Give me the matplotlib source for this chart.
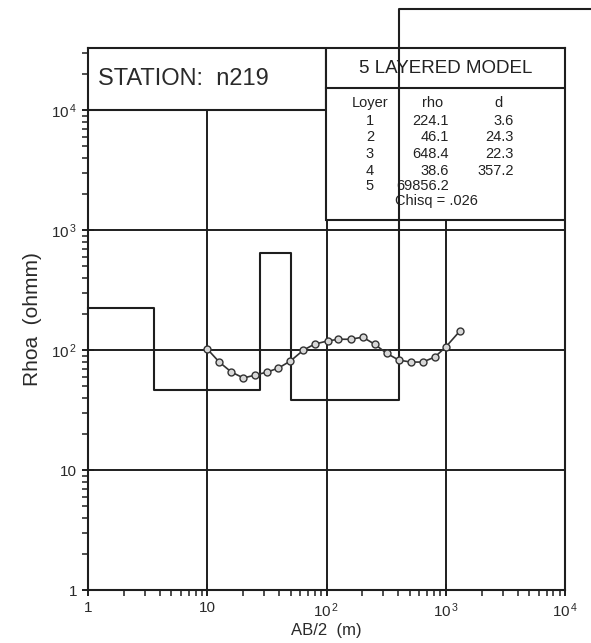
import numpy as np
import matplotlib.pyplot as plt
from matplotlib.patches import Rectangle
from matplotlib.ticker import FixedLocator, LogLocator, NullFormatter

plt.rcParams['font.family'] = ['Liberation Sans', 'DejaVu Sans']
plt.rcParams['mathtext.default'] = 'regular'

station = 'n219'
# measured sounding (AB/2 in m, apparent resistivity in ohm-m)
ab2 = [10, 12.6, 15.9, 20.1, 25.3, 31.9, 39.5, 49.8, 64.1, 79.3, 102, 126,
       159, 201, 253, 319, 403, 508, 641, 809, 1000, 1313]
rhoa = [102, 79.4, 65.6, 58.5, 61.9, 65.6, 70.8, 81, 100, 112, 119, 123,
        123, 128, 112, 94, 82.5, 79.4, 79.4, 87.4, 106, 144]
# layered model
layer = [1, 2, 3, 4, 5]
rho = [224.1, 46.1, 648.4, 38.6, 69856.2]
thick = [3.6, 24.3, 22.3, 357.2]
chisq = '.026'
xticks = [1, 10, 100, 1000, 10000]
xlabels = ['1', '10', '$10^{\\,2}$', '$10^{\\,3}$', '$10^{\\,4}$']
yticks = [1, 10, 100, 1000, 10000]
ylabels = ['1', '10', '$10^{\\,2}$', '$10^{\\,3}$', '$10^{\\,4}$']

ink = '#1e1e1e'
fig = plt.figure(figsize=(5.91, 6.43), dpi=100)
ax = fig.add_axes([0.149, 0.0824, 0.807, 0.8429])
ax.set_xscale('log')
ax.set_yscale('log')
ax.set_xlim(1, 1e4)
ax.set_ylim(1, 10**4.517)

for s in ax.spines.values():
    s.set_color(ink)
    s.set_linewidth(1.5)

# grid
for v in [10, 100, 1000]:
    ax.axvline(v, color=ink, lw=1.4, zorder=1)
for h in [10, 100, 1000, 10000]:
    ax.axhline(h, color=ink, lw=1.4, zorder=1)

# header boxes
ax.add_patch(Rectangle((0, 0.8856), 0.4993, 0.1144, transform=ax.transAxes,
                       facecolor='white', edgecolor=ink, lw=1.5, zorder=3))
ax.add_patch(Rectangle((0.4993, 0.683), 0.5007, 0.317, transform=ax.transAxes,
                       facecolor='white', edgecolor=ink, lw=1.5, zorder=3))
ax.plot([0.4993, 1], [0.926, 0.926], transform=ax.transAxes, color=ink, lw=1.5, zorder=4)

ax.text(0.02, 0.943, 'STATION:  ' + station, transform=ax.transAxes, fontsize=17,
        color='#2a2a2a', va='center', ha='left', zorder=5)
ax.text(0.75, 0.962, '5 LAYERED MODEL', transform=ax.transAxes, fontsize=13.5,
        color='#222222', va='center', ha='center', zorder=5)

tk = dict(transform=ax.transAxes, fontsize=10.5, color='#222222', va='center', zorder=5)
x_lay, x_rho, x_d = 0.591, 0.757, 0.893
ax.text(x_lay, 0.898, 'Loyer', ha='center', **tk)
ax.text(0.722, 0.898, 'rho', ha='center', **tk)
ax.text(0.861, 0.898, 'd', ha='center', **tk)
row_y = [0.866, 0.836, 0.805, 0.774, 0.745]
for i in range(len(layer)):
    ax.text(x_lay, row_y[i], str(layer[i]), ha='center', **tk)
    ax.text(x_rho, row_y[i], '%.1f' % rho[i], ha='right', **tk)
    if i < len(thick):
        ax.text(x_d, row_y[i], '%.1f' % thick[i], ha='right', **tk)
ax.text(0.73, 0.717, 'Chisq = ' + chisq, ha='center', **tk)

# model step curve
depth = np.cumsum(thick)
sx = [1]
sy = [rho[0]]
for i in range(len(thick)):
    sx += [depth[i], depth[i]]
    sy += [rho[i], rho[i + 1]]
sx.append(1.7e4)
sy.append(rho[-1])
ax.plot(sx, sy, color=ink, lw=1.5, clip_on=False, zorder=6)

# data and fitted curve
ax.plot(ab2, rhoa, color='#333333', lw=1.2, marker='o', ms=5, mfc='#d8d8d8',
        mec='#333333', mew=1.0, zorder=7)

ax.xaxis.set_major_locator(FixedLocator(xticks))
ax.set_xticklabels(xlabels)
ax.yaxis.set_major_locator(FixedLocator(yticks))
ax.set_yticklabels(ylabels)
ax.xaxis.set_minor_locator(LogLocator(base=10, subs=np.arange(2, 10)))
ax.yaxis.set_minor_locator(LogLocator(base=10, subs=np.arange(2, 10)))
ax.xaxis.set_minor_formatter(NullFormatter())
ax.yaxis.set_minor_formatter(NullFormatter())
ax.tick_params(which='major', direction='inout', length=8, width=1.4, color=ink,
               labelsize=11, labelcolor='#2a2a2a', pad=4)
ax.tick_params(which='minor', direction='out', length=4, width=1.1, color=ink)

ax.set_xlabel('AB/2  (m)', fontsize=12, color='#2a2a2a', labelpad=2)
ax.set_ylabel('Rhoa  (ohmm)', fontsize=15, color='#2a2a2a', labelpad=6)

fig.savefig('out.png', dpi=100, facecolor='white')
